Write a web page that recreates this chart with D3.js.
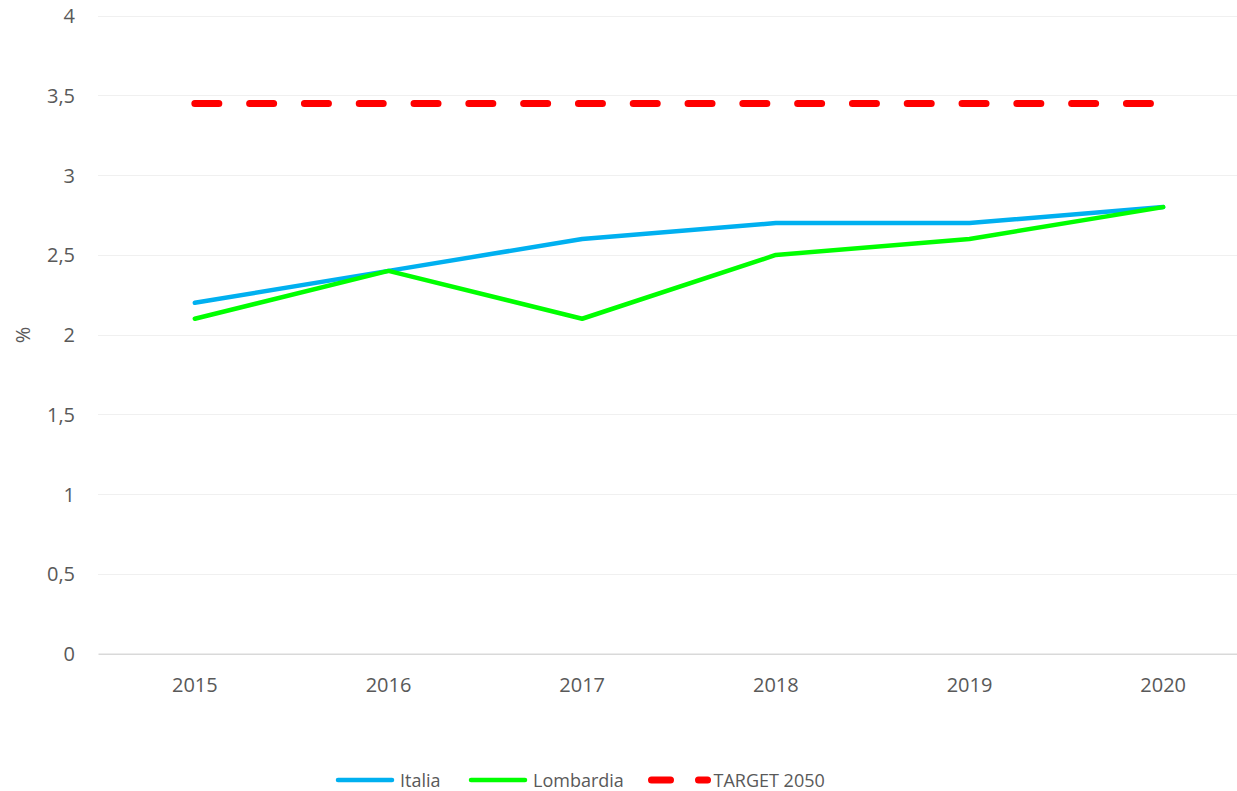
<!DOCTYPE html>
<html>
<head>
<meta charset="utf-8">
<script src="https://cdn.jsdelivr.net/npm/d3@7"></script>
<style>
  body { margin: 0; background: #fff; }
  text { font-family: "Open Sans", sans-serif; fill: #595959; }
</style>
</head>
<body>
<div class="chart"></div>
<script>
// data
const years = ["2015", "2016", "2017", "2018", "2019", "2020"];
const italia = [2.2, 2.4, 2.6, 2.7, 2.7, 2.8];
const lombardia = [2.1, 2.4, 2.1, 2.5, 2.6, 2.8];
const target2050 = [3.45, 3.45, 3.45, 3.45, 3.45, 3.45];
const yTicks = [0, 0.5, 1, 1.5, 2, 2.5, 3, 3.5, 4];

// size
const svg_w = 1237;
const svg_h = 791;

// colours
const blue = "#00b0f0";
const green = "#00ff00";
const red = "#ff0000";

const series = [
    { name: "Italia", values: italia, color: blue, dash: null },
    { name: "Lombardia", values: lombardia, color: green, dash: null },
    { name: "TARGET 2050", values: target2050, color: red, dash: "24,30.8" }
];

// scales
const xScale = d3.scaleBand()
    .domain(years)
    .range([98, 1260])
    .padding(0);

const yScale = d3.scaleLinear()
    .domain([0, 4])
    .range([653.7, 15.7]);

const svg = d3.select(".chart")
    .append("svg")
    .attr("width", svg_w)
    .attr("height", svg_h);

// gridlines
svg.append("g")
    .selectAll("line")
    .data(yTicks.filter(d => d > 0))
    .enter()
    .append("line")
    .attr("x1", 98)
    .attr("x2", svg_w)
    .attr("y1", d => Math.round(yScale(d)) + 0.5)
    .attr("y2", d => Math.round(yScale(d)) + 0.5)
    .attr("stroke", "#f0f0f0")
    .attr("stroke-width", 1.2);

// y axis (labels only)
const fmt = d => String(d).replace(".", ",");
const yAxis = d3.axisLeft(yScale).tickValues(yTicks).tickFormat(fmt).tickSize(0).tickPadding(0);
const yG = svg.append("g")
    .attr("transform", "translate(75,0)")
    .call(yAxis);
yG.select(".domain").remove();
yG.selectAll("text")
    .attr("font-size", "20px")
    .attr("font-family", "Open Sans, sans-serif")
    .attr("fill", "#595959")
    .attr("dy", "0.35em");

// x axis
const xAxis = d3.axisBottom(xScale).tickSize(0).tickPadding(0);
const xG = svg.append("g")
    .attr("transform", "translate(0," + yScale(0) + ")")
    .call(xAxis);
xG.select(".domain")
    .attr("stroke", "#d9d9d9")
    .attr("stroke-width", 1.5);
xG.selectAll("text")
    .attr("font-size", "20px")
    .attr("font-family", "Open Sans, sans-serif")
    .attr("fill", "#595959")
    .attr("y", 38)
    .attr("dy", 0);

// y axis title
svg.append("text")
    .attr("transform", "translate(30,335) rotate(-90)")
    .attr("text-anchor", "middle")
    .attr("font-size", "20px")
    .text("%");

// lines
const line = d3.line()
    .x((d, i) => xScale(years[i]) + xScale.bandwidth() / 2)
    .y(d => yScale(d));

svg.append("g")
    .selectAll("path")
    .data([series[2], series[0], series[1]])
    .enter()
    .append("path")
    .attr("d", d => line(d.values))
    .attr("fill", "none")
    .attr("stroke", d => d.color)
    .attr("stroke-width", d => d.dash ? 7 : 4.5)
    .attr("stroke-linecap", "round")
    .attr("stroke-linejoin", "round")
    .attr("stroke-dasharray", d => d.dash);

// legend
const legendX = [338, 471, 651.5];
const legend = svg.append("g")
    .attr("id", "legend");

const items = legend.selectAll("g")
    .data(series)
    .enter()
    .append("g")
    .attr("transform", (d, i) => "translate(" + legendX[i] + ",780)");

items.append("line")
    .attr("x1", 0)
    .attr("x2", d => d.dash ? 56 : 54)
    .attr("y1", 0)
    .attr("y2", 0)
    .attr("stroke", d => d.color)
    .attr("stroke-width", d => d.dash ? 7 : 4.5)
    .attr("stroke-linecap", "round")
    .attr("stroke-dasharray", d => d.dash ? "19,28" : null);

items.append("text")
    .attr("x", 62)
    .attr("y", 7)
    .attr("font-size", "18px")
    .text(d => d.name);
</script>
</body>
</html>
